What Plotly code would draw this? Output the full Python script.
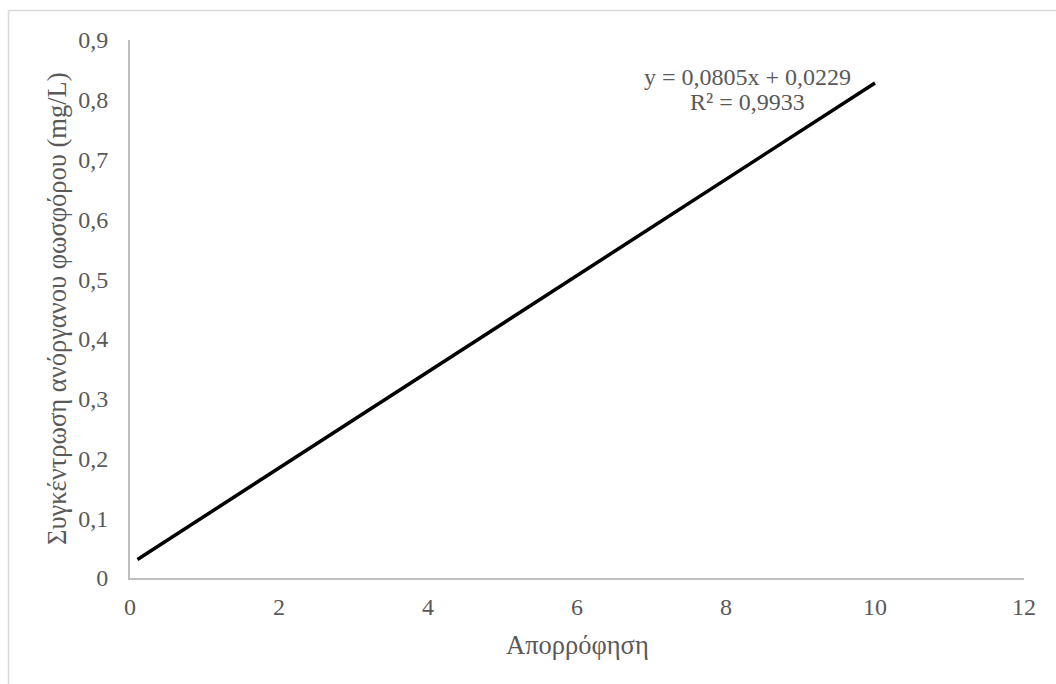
import plotly.graph_objects as go

# Data
absorbance = [0.1, 10]
concentration = [0.031, 0.828]
eq_line1 = "y = 0,0805x + 0,0229"
eq_line2 = "R² = 0,9933"
x_title = "Απορρόφηση"
y_title = "Συγκέντρωση ανόργανου φωσφόρου (mg/L)"
x_ticks = [0, 2, 4, 6, 8, 10, 12]
y_ticks = [0, 0.1, 0.2, 0.3, 0.4, 0.5, 0.6, 0.7, 0.8, 0.9]
y_ticktext = ["0", "0,1", "0,2", "0,3", "0,4", "0,5", "0,6", "0,7", "0,8", "0,9"]

W, H = 1056, 684
L, R, T, B = 130, 32, 40, 106
pw, ph = W - L - R, H - T - B

FONT = "Liberation Serif, Times New Roman, serif"
TXT = "#595959"
AX = "#bfbfbf"
FS = 24
FS_TITLE = 26.5
FS_EQ = 24

fig = go.Figure()
fig.add_trace(go.Scatter(x=absorbance, y=concentration, mode="lines",
                         line=dict(color="black", width=3.5), showlegend=False,
                         hoverinfo="skip"))

fig.update_layout(
    width=W, height=H,
    margin=dict(l=L, r=R, t=T, b=B),
    paper_bgcolor="white", plot_bgcolor="white",
    font=dict(family=FONT, size=FS, color=TXT),
    xaxis=dict(range=[0, 12], tickvals=x_ticks, showgrid=False, zeroline=False,
               showline=True, linecolor=AX, linewidth=2, ticks="outside",
               ticklen=0, tickcolor="rgba(0,0,0,0)", ticklabelstandoff=6,
               tickfont=dict(family=FONT, size=FS, color=TXT), fixedrange=True),
    yaxis=dict(range=[0, 0.9], tickvals=y_ticks, ticktext=y_ticktext, showgrid=False,
               zeroline=False, showline=True, linecolor=AX, linewidth=2,
               ticks="outside", ticklen=0, tickcolor="rgba(0,0,0,0)",
               ticklabelstandoff=15,
               tickfont=dict(family=FONT, size=FS, color=TXT), fixedrange=True),
)

def px_x(p):
    return (p - L) / pw

def px_y(p):
    return 1 - (p - T) / ph

annotations = [
    dict(text=eq_line1, x=px_x(747), y=px_y(77), xref="paper", yref="paper",
         showarrow=False, xanchor="center", yanchor="middle",
         font=dict(family=FONT, size=FS_EQ, color=TXT)),
    dict(text=eq_line2, x=px_x(747), y=px_y(102), xref="paper", yref="paper",
         showarrow=False, xanchor="center", yanchor="middle",
         font=dict(family=FONT, size=FS_EQ, color=TXT)),
    dict(text=x_title, x=0.5, y=px_y(645), xref="paper", yref="paper",
         showarrow=False, xanchor="center", yanchor="middle",
         font=dict(family=FONT, size=FS_TITLE, color=TXT)),
    dict(text=y_title, x=px_x(57), y=px_y(309), xref="paper", yref="paper",
         showarrow=False, xanchor="center", yanchor="middle", textangle=-90,
         font=dict(family=FONT, size=FS_TITLE, color=TXT)),
]
fig.update_layout(annotations=annotations)

# chart-area border (light gray)
fig.add_shape(type="line", xref="paper", yref="paper",
              x0=px_x(8.5), x1=px_x(W + 5), y0=px_y(10.5), y1=px_y(10.5),
              line=dict(color="#d9d9d9", width=1.5))
fig.add_shape(type="line", xref="paper", yref="paper",
              x0=px_x(8.5), x1=px_x(8.5), y0=px_y(10.5), y1=px_y(H + 5),
              line=dict(color="#d9d9d9", width=1.5))

fig.write_html("out.html")
